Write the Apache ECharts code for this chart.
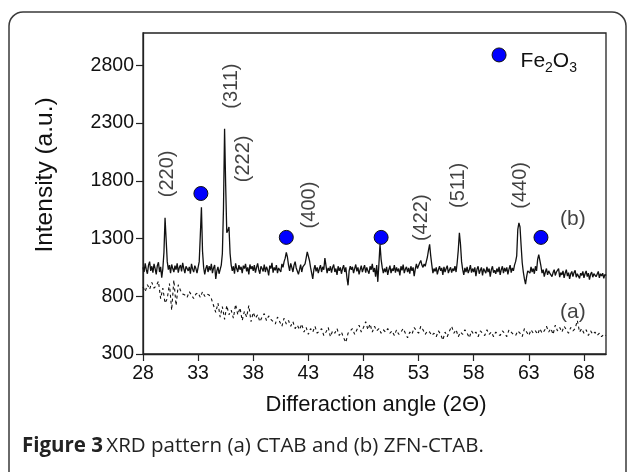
<!DOCTYPE html>
<html><head><meta charset="utf-8">
<script src="https://cdn.jsdelivr.net/npm/echarts@6/dist/echarts.min.js"></script>
<style>html,body{margin:0;padding:0;background:#fff}#c{width:629px;height:472px}</style>
</head><body><div id="c"></div>
<script>
// ---- data ----
const xTickValues = [28, 33, 38, 43, 48, 53, 58, 63, 68];
const yTickValues = [300, 800, 1300, 1800, 2300, 2800];
const angleStart = 28;       // first measured 2θ
const zfnStep = 0.1;         // 2θ spacing of (b)
const ctabStep = 0.2;        // 2θ spacing of (a)

// (b) ZFN-CTAB intensity, 28.0 .. 70.0
const zfnIntensity = [
1050,1010,1085,1030,995,1070,1100,1020,1060,1005,
1080,1040,990,1065,1095,1010,1055,960,1040,1180,
1480,1290,1100,1030,1070,1000,1075,1040,1010,1065,
1030,1085,1005,1050,1070,1015,1090,1040,1000,1060,
1075,1020,1055,995,1080,1035,1010,1065,1040,1000,
1050,1100,1330,1570,1190,1050,990,1040,1070,1010,
1060,1025,1080,1000,1045,1070,950,1020,1055,995,
1010,1070,1170,1560,2250,1760,1350,1370,1400,1170,
1070,1020,1060,995,1085,1040,1010,1070,1030,1055,
1000,1065,1040,1080,1015,1050,990,1075,1035,1060,
1020,1070,1005,1050,1085,1030,995,1060,1040,1015,
1075,1010,1055,1030,980,1065,1040,1090,1005,1050,
1025,1070,1000,1045,1060,1010,1080,1050,1100,1130,
1180,1140,1070,1020,1085,1050,1010,1070,1100,1045,
1060,990,1030,1075,1010,1055,1040,1080,1130,1185,
1190,1110,1050,1000,950,1030,1070,1015,1050,1000,
1040,1070,1010,1055,1030,1130,1065,1000,1045,1020,
1060,1005,1050,1075,1010,1040,985,1060,1020,1050,
995,1040,1070,1010,1050,960,895,1020,1060,1030,
1055,1000,1040,1075,1015,1050,990,1030,1065,1010,
1040,1070,1005,1050,1020,995,1060,1030,1080,1010,
1045,970,1070,925,1080,1250,1120,1050,1000,1040,
1010,1055,985,1030,1065,1000,1040,1020,1070,1005,
1050,1015,1040,980,1060,1025,1075,1000,1035,1055,
1010,1045,995,1060,1020,1050,975,1035,1080,1040,
1040,1090,1110,1070,1050,1080,1060,1100,1140,1200,
1250,1150,1070,1000,1040,1015,1050,990,1030,1060,
1020,1045,985,1055,1010,1040,1065,1000,1030,1050,
1005,1040,1020,1060,1010,1090,1200,1350,1250,1100,
1030,985,1045,1010,1055,1000,1030,1070,1005,1040,
1010,1050,975,1035,1060,995,1025,1050,980,1040,
1020,1000,1055,1010,1040,970,1030,1060,1005,1025,
995,1040,1010,1055,985,1030,1060,1000,1045,1015,
1050,990,1035,1070,1005,1045,1020,1070,1100,1150,
1380,1435,1400,1240,1090,1010,950,905,970,1020,
1030,1000,1055,1010,1040,995,1060,1020,1120,1160,
1110,1060,1000,1030,970,1010,1040,985,1020,1000,
1015,970,1005,1030,980,1010,995,1040,965,1005,
985,1020,960,1000,1030,975,1005,950,995,1015,
970,1005,1025,965,995,1010,955,1000,980,1015,
960,995,1020,970,1000,945,990,1010,965,995,
1005,970,985,1015,960,995,975,1000,955,990,
980];

// (a) CTAB intensity, 28.0 .. 70.0
const ctabIntensity = [
880,840,900,860,920,870,890,930,780,870,
740,780,910,680,940,720,900,850,820,810,
790,840,810,780,820,830,790,840,800,820,
810,780,720,660,740,620,710,600,720,640,
680,610,730,640,700,590,670,620,720,580,
660,610,640,580,620,650,590,630,600,580,
560,620,580,540,610,560,590,540,580,520,
550,510,560,490,530,470,520,490,540,480,
500,520,460,490,530,450,500,480,520,460,
490,440,400,480,500,520,470,510,550,490,
530,580,510,560,490,540,500,520,480,510,
490,520,480,500,460,510,470,490,520,480,
440,490,470,530,500,480,540,510,470,500,
490,460,480,450,500,470,420,490,450,500,
540,480,510,450,490,470,510,480,440,500,
470,490,450,500,480,460,510,470,490,450,
490,470,460,500,480,450,510,490,470,460,
500,480,450,520,490,460,510,480,500,470,
520,480,500,540,490,520,470,550,500,530,
490,540,510,480,530,500,520,590,490,520,
480,510,460,500,470,490,460,480,450,470,
460];

// Fe2O3 reflection markers
const feAngles = [33.25, 41.0, 49.6, 64.1];
const feIntensity = [1690, 1310, 1310, 1310];
const feKeyAngle = 60.3, feKeyIntensity = 2890;

// Miller-index annotations (text, 2θ, intensity at label centre)
const peakNames = ['(220)', '(311)', '(222)', '(400)', '(422)', '(511)', '(440)'];
const peakLabelAngles = [30.2, 36.0, 37.1, 43.1, 53.3, 56.6, 62.2];
const peakLabelIntensity = [1860, 2620, 1990, 1590, 1480, 1760, 1760];

// curve tags
const curveNames = ['(b)', '(a)'];
const curveTagAngles = [67.0, 67.0];
const curveTagIntensity = [1465, 660];

// ---- build ----
const FONT = 'Liberation Sans';
const CAPFONT = 'Open Sans';
const INK = '#111';
const zfnData = zfnIntensity.map((v, i) => [+(angleStart + i * zfnStep).toFixed(2), v]);
const ctabData = ctabIntensity.map((v, i) => [+(angleStart + i * ctabStep).toFixed(2), v]);
const feData = feAngles.map((a, i) => [a, feIntensity[i]]);
const peakData = peakNames.map((n, i) => [peakLabelAngles[i], peakLabelIntensity[i], n]);
const tagData = curveNames.map((n, i) => [curveTagAngles[i], curveTagIntensity[i], n]);

const chart = echarts.init(document.getElementById('c'), null, {renderer: 'canvas'});
chart.setOption({
  animation: false,
  backgroundColor: '#fff',
  textStyle: {fontFamily: FONT},
  grid: {left: 143, top: 33, right: 23, bottom: 118, show: true, borderColor: '#222', borderWidth: 1.3, backgroundColor: 'transparent'},
  xAxis: {
    type: 'value', min: 28, max: 70,
    axisLine: {onZero: false, lineStyle: {color: '#222', width: 1.3}},
    axisTick: {customValues: xTickValues, length: 7, lineStyle: {color: '#222', width: 1.2}},
    axisLabel: {customValues: xTickValues, margin: 10, fontSize: 19.5, color: INK, fontFamily: FONT, formatter: v => String(v)},
    splitLine: {show: false}
  },
  yAxis: {
    type: 'value', min: 300, max: 3080,
    axisLine: {show: true, onZero: false, lineStyle: {color: '#222', width: 1.3}},
    axisTick: {show: true, customValues: yTickValues, length: 7, lineStyle: {color: '#222', width: 1.2}},
    axisLabel: {customValues: yTickValues, margin: 9, fontSize: 19.5, color: INK, fontFamily: FONT, formatter: v => String(v)},
    splitLine: {show: false}
  },
  graphic: [
    {type: 'rect', shape: {x: 9, y: 12, width: 617, height: 480, r: 14}, style: {fill: 'none', stroke: '#3a3a3a', lineWidth: 1.5}, z: -1},
    {type: 'text', x: 45, y: 175, rotation: Math.PI / 2, style: {text: 'Intensity (a.u.)', fontSize: 24.5, fontFamily: FONT, fill: INK, align: 'center', verticalAlign: 'middle'}},
    {type: 'text', x: 376, y: 405, style: {text: 'Differaction angle (2\u0398)', fontSize: 22, fontFamily: FONT, fill: INK, align: 'center', verticalAlign: 'middle'}},
    {type: 'text', x: 22, y: 446, style: {
      text: '{b|Figure 3} {r|XRD pattern (a) CTAB and (b) ZFN-CTAB.}',
      verticalAlign: 'middle', align: 'left',
      rich: {
        b: {fontSize: 20.5, fontWeight: 'bold', fontFamily: CAPFONT, fill: '#222'},
        r: {fontSize: 20.5, fontFamily: CAPFONT, fill: '#222'}
      }
    }}
  ],
  series: [
    {type: 'line', data: ctabData, symbol: 'none', lineStyle: {color: '#111', width: 1.1, type: [3, 3]}, z: 2},
    {type: 'line', data: zfnData, symbol: 'none', lineStyle: {color: '#111', width: 1.3}, z: 3},
    {type: 'scatter', data: feData, symbolSize: 14, itemStyle: {color: '#0000ff', borderColor: '#111', borderWidth: 1, opacity: 1}, z: 5},
    {type: 'scatter', data: [[feKeyAngle, feKeyIntensity]], symbolSize: 14,
     itemStyle: {color: '#0000ff', borderColor: '#111', borderWidth: 1, opacity: 1}, z: 5,
     label: {show: true, position: 'right', distance: 14, offset: [0, 6],
       formatter: '{n|Fe}{s|2}{n|O}{s|3}',
       rich: {n: {fontSize: 21, fontFamily: FONT, color: INK, lineHeight: 28, verticalAlign: 'middle'},
              s: {fontSize: 14, fontFamily: FONT, color: INK, lineHeight: 28, verticalAlign: 'bottom', padding: [8, 0, 0, 0]}}}},
    {type: 'scatter', data: peakData, symbolSize: 0, z: 6,
     label: {show: true, position: 'inside', rotate: 90, fontSize: 20, fontFamily: FONT, color: INK, formatter: p => p.data[2]}},
    {type: 'scatter', data: tagData, symbolSize: 0, z: 6,
     label: {show: true, position: 'inside', fontSize: 21, fontFamily: FONT, color: INK, formatter: p => p.data[2]}}
  ]
});
</script></body></html>
